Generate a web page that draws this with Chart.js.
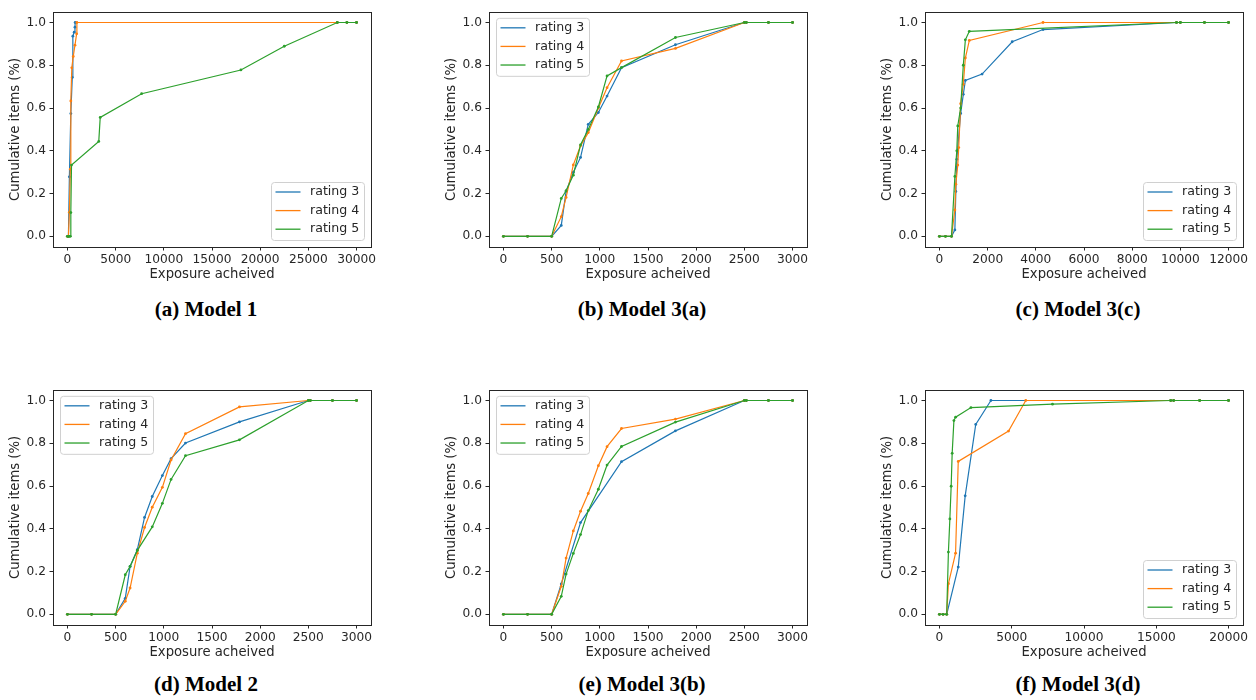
<!DOCTYPE html>
<html>
<head>
<meta charset="utf-8">
<script src="https://cdn.jsdelivr.net/npm/chart.js@4/dist/chart.umd.min.js"></script>
<style>
  body { margin: 0; background: #fff; }
  #page { position: relative; width: 1256px; height: 700px; overflow: hidden; }
  .panel { position: absolute; width: 375px; height: 281px; }
  .caption {
    position: absolute;
    transform: translate(-50%, -50%);
    font-family: "Liberation Serif", "Times New Roman", serif;
    font-weight: bold;
    font-size: 21px;
    color: #000;
    white-space: nowrap;
  }
</style>
</head>
<body>
<div id="page">
  <div class="panel" style="left:8px;top:1px"><canvas id="chartA"></canvas></div>
  <div class="panel" style="left:444px;top:1px"><canvas id="chartB"></canvas></div>
  <div class="panel" style="left:880px;top:1px"><canvas id="chartC"></canvas></div>
  <div class="panel" style="left:8px;top:379px"><canvas id="chartD"></canvas></div>
  <div class="panel" style="left:444px;top:379px"><canvas id="chartE"></canvas></div>
  <div class="panel" style="left:880px;top:379px"><canvas id="chartF"></canvas></div>

  <div class="caption" style="left:206px;top:309px">(a) Model 1</div>
  <div class="caption" style="left:642px;top:309px">(b) Model 3(a)</div>
  <div class="caption" style="left:1078px;top:309px">(c) Model 3(c)</div>
  <div class="caption" style="left:206px;top:684px">(d) Model 2</div>
  <div class="caption" style="left:642px;top:684px">(e) Model 3(b)</div>
  <div class="caption" style="left:1078px;top:684px">(f) Model 3(d)</div>
</div>

<script>
// series labels
const ratingLabels = ["rating 3", "rating 4", "rating 5"];
const ratingColors = ["#1f77b4", "#ff7f0e", "#2ca02c"];

// y ticks are the same for every panel
const yTicks = [0, 0.2, 0.4, 0.6, 0.8, 1.0];

// (a) Model 1  (null = no point for that rating at this exposure)
const aX  = [0, 100, 200, 300, 350, 420, 450, 500, 560, 600, 700, 780, 800, 950, 980, 3250, 3400, 7700, 18000, 22500, 28000, 29000, 30000];
const aR3 = [0, 0, 0.278, null, 0.574, null, null, 0.743, 0.936, null, 0.955, 0.978, 1, null, null, null, null, null, null, null, 1, 1, 1];
const aR4 = [0, 0, 0.112, 0.314, 0.633, null, 0.788, null, null, 0.841, null, 0.894, null, 0.947, 1, null, null, null, null, null, 1, 1, 1];
const aR5 = [0, 0, 0, 0, 0.111, 0.333, null, null, null, null, null, null, null, null, null, 0.444, 0.556, 0.667, 0.778, 0.889, 1, 1, 1];
const aTicks = [0, 5000, 10000, 15000, 20000, 25000, 30000];

// (b) Model 3(a)
const bX  = [0, 250, 500, 600, 650, 725, 800, 880, 985, 1075, 1225, 1785, 2500, 2520, 2750, 3000];
const bR3 = [0, 0, 0, 0.051, 0.21, 0.30, 0.369, 0.524, 0.579, 0.656, 0.789, 0.896, 1, 1, 1, 1];
const bR4 = [0, 0, 0, 0.092, 0.182, 0.334, 0.423, 0.485, 0.60, 0.695, 0.82, 0.879, 1, 1, 1, 1];
const bR5 = [0, 0, 0, 0.177, 0.213, 0.286, 0.428, 0.50, 0.605, 0.75, 0.789, 0.93, 1, 1, 1, 1];
const bTicks = [0, 500, 1000, 1500, 2000, 2500, 3000];

// (c) Model 3(c)
const cX  = [0, 250, 500, 640, 680, 720, 760, 800, 880, 990, 1075, 1240, 1770, 3020, 4300, 9840, 10000, 11000, 12000];
const cR3 = [0, 0, 0, 0.03, 0.21, 0.36, null, null, 0.575, 0.664, 0.729, null, 0.759, 0.91, 0.967, 1, 1, 1, 1];
const cR4 = [0, 0, 0, 0.123, 0.244, null, 0.333, 0.415, 0.62, 0.711, 0.834, 0.916, null, null, 1, 1, 1, 1, 1];
const cR5 = [0, 0, 0, 0.28, null, 0.40, 0.516, null, 0.60, 0.80, 0.919, 0.959, null, null, null, 1, 1, 1, 1];
const cTicks = [0, 2000, 4000, 6000, 8000, 10000, 12000];

// (d) Model 2
const dX  = [0, 250, 500, 600, 650, 725, 800, 880, 985, 1075, 1225, 1785, 2500, 2520, 2750, 3000];
const dR3 = [0, 0, 0, 0.075, 0.224, 0.302, 0.453, 0.551, 0.649, 0.728, 0.801, 0.90, 1, 1, 1, 1];
const dR4 = [0, 0, 0, 0.061, 0.123, 0.286, 0.406, 0.501, 0.594, 0.722, 0.845, 0.97, 1, 1, 1, 1];
const dR5 = [0, 0, 0, 0.185, 0.224, 0.299, null, 0.409, 0.519, 0.631, 0.742, 0.816, 1, 1, 1, 1];
const dTicks = [0, 500, 1000, 1500, 2000, 2500, 3000];

// (e) Model 3(b)
const eX  = [0, 250, 500, 600, 650, 725, 800, 880, 985, 1075, 1225, 1785, 2500, 2520, 2750, 3000];
const eR3 = [0, 0, 0, 0.142, null, null, 0.429, null, null, null, 0.714, 0.858, 1, 1, 1, 1];
const eR4 = [0, 0, 0, 0.131, 0.263, 0.39, 0.482, 0.565, 0.695, 0.784, 0.869, 0.913, 1, 1, 1, 1];
const eR5 = [0, 0, 0, 0.084, 0.188, 0.285, 0.373, 0.485, 0.585, 0.698, 0.785, 0.899, 1, 1, 1, 1];
const eTicks = [0, 500, 1000, 1500, 2000, 2500, 3000];

// (f) Model 3(d)
const fX  = [0, 250, 500, 620, 720, 810, 880, 1000, 1115, 1300, 1780, 2180, 2510, 3560, 4780, 5970, 7820, 16000, 16200, 18000, 20000];
const fR3 = [0, 0, 0, null, null, null, null, null, null, 0.221, 0.554, null, 0.888, 1, null, null, null, 1, 1, 1, 1];
const fR4 = [0, 0, 0, 0.143, null, null, null, null, 0.286, 0.715, null, null, null, null, 0.857, 1, null, 1, 1, 1, 1];
const fR5 = [0, 0, 0, 0.291, 0.446, 0.599, 0.753, 0.906, 0.922, null, null, 0.967, null, null, null, null, 0.983, 1, 1, 1, 1];
const fTicks = [0, 5000, 10000, 15000, 20000];

const textColor = "#262626";
const tickFont = { family: "DejaVu Sans", size: 12.2 };
const titleFont = { family: "DejaVu Sans", size: 13.2 };

// full box around the plot area (matplotlib style spines)
const framePlugin = {
  id: "frame",
  afterDraw(chart) {
    const { ctx, chartArea: a } = chart;
    ctx.save();
    ctx.strokeStyle = textColor;
    ctx.lineWidth = 1;
    ctx.strokeRect(Math.round(a.left) + 0.5, Math.round(a.top) + 0.5,
      Math.round(a.right - a.left), Math.round(a.bottom - a.top));
    ctx.restore();
  }
};

// legend inside the axes with a rounded frame
const boxLegend = {
  id: "boxLegend",
  afterDatasetsDraw(chart, args, opts) {
    const { ctx, chartArea: a } = chart;
    const w = 93, h = 58;
    const x = opts.corner === "ul" ? a.left + 7 : a.right - 7 - w;
    const y = opts.corner === "ul" ? a.top + 6 : a.bottom - 7 - h;
    ctx.save();
    ctx.beginPath();
    ctx.roundRect(x + 0.5, y + 0.5, w, h, 3);
    ctx.fillStyle = "rgba(255,255,255,0.8)";
    ctx.fill();
    ctx.strokeStyle = "#d0d0d0";
    ctx.lineWidth = 1;
    ctx.stroke();
    ctx.font = '12.6px "DejaVu Sans"';
    ctx.textBaseline = "middle";
    chart.data.datasets.forEach((ds, i) => {
      const cy = y + 10 + i * 18.6;
      ctx.beginPath();
      ctx.moveTo(x + 4.5, cy);
      ctx.lineTo(x + 29.5, cy);
      ctx.strokeStyle = ds.borderColor;
      ctx.lineWidth = 1.3;
      ctx.stroke();
      ctx.fillStyle = textColor;
      ctx.fillText(ds.label, x + 39, cy);
    });
    ctx.restore();
  }
};

function makeChart(id, xs, series, xTicks, xMax, corner) {
  const pad = xMax * 0.05;
  new Chart(document.getElementById(id), {
    type: "line",
    data: {
      datasets: series.map((ys, i) => ({
        label: ratingLabels[i],
        data: xs.map((x, j) => ({ x: x, y: ys[j] })),
        borderColor: ratingColors[i],
        backgroundColor: ratingColors[i],
        borderWidth: 1.2,
        pointRadius: 1.4,
        pointBorderWidth: 0,
        pointBackgroundColor: ratingColors[i],
        spanGaps: true,
        tension: 0,
        order: 3 - i // rating 5 drawn on top
      }))
    },
    options: {
      responsive: true,
      maintainAspectRatio: false,
      animation: false,
      layout: { padding: { top: 10, right: 12, left: 0, bottom: 0 } },
      plugins: {
        legend: { display: false },
        tooltip: { enabled: false },
        boxLegend: { corner: corner }
      },
      scales: {
        x: {
          type: "linear",
          min: -pad,
          max: xMax + pad,
          afterBuildTicks: (scale) => { scale.ticks = xTicks.map((v) => ({ value: v })); },
          afterFit: (scale) => { scale.height = 35; },
          border: { display: false },
          grid: { drawOnChartArea: false, drawTicks: true, tickLength: 3.5, tickColor: textColor },
          ticks: { color: textColor, font: tickFont, padding: 2, maxRotation: 0, callback: (v) => String(v) },
          title: { display: true, text: "Exposure acheived", color: textColor, font: titleFont, padding: 0 }
        },
        y: {
          type: "linear",
          min: -0.05,
          max: 1.05,
          afterBuildTicks: (scale) => { scale.ticks = yTicks.map((v) => ({ value: v })); },
          afterFit: (scale) => { scale.width = 45; },
          border: { display: false },
          grid: { drawOnChartArea: false, drawTicks: true, tickLength: 3.5, tickColor: textColor },
          ticks: { color: textColor, font: tickFont, padding: 3.5, callback: (v) => v.toFixed(1) },
          title: { display: true, text: "Cumulative items (%)", color: textColor, font: titleFont, padding: 0 }
        }
      }
    },
    plugins: [framePlugin, boxLegend]
  });
}

makeChart("chartA", aX, [aR3, aR4, aR5], aTicks, 30000, "lr");
makeChart("chartB", bX, [bR3, bR4, bR5], bTicks, 3000, "ul");
makeChart("chartC", cX, [cR3, cR4, cR5], cTicks, 12000, "lr");
makeChart("chartD", dX, [dR3, dR4, dR5], dTicks, 3000, "ul");
makeChart("chartE", eX, [eR3, eR4, eR5], eTicks, 3000, "ul");
makeChart("chartF", fX, [fR3, fR4, fR5], fTicks, 20000, "lr");
</script>
</body>
</html>
